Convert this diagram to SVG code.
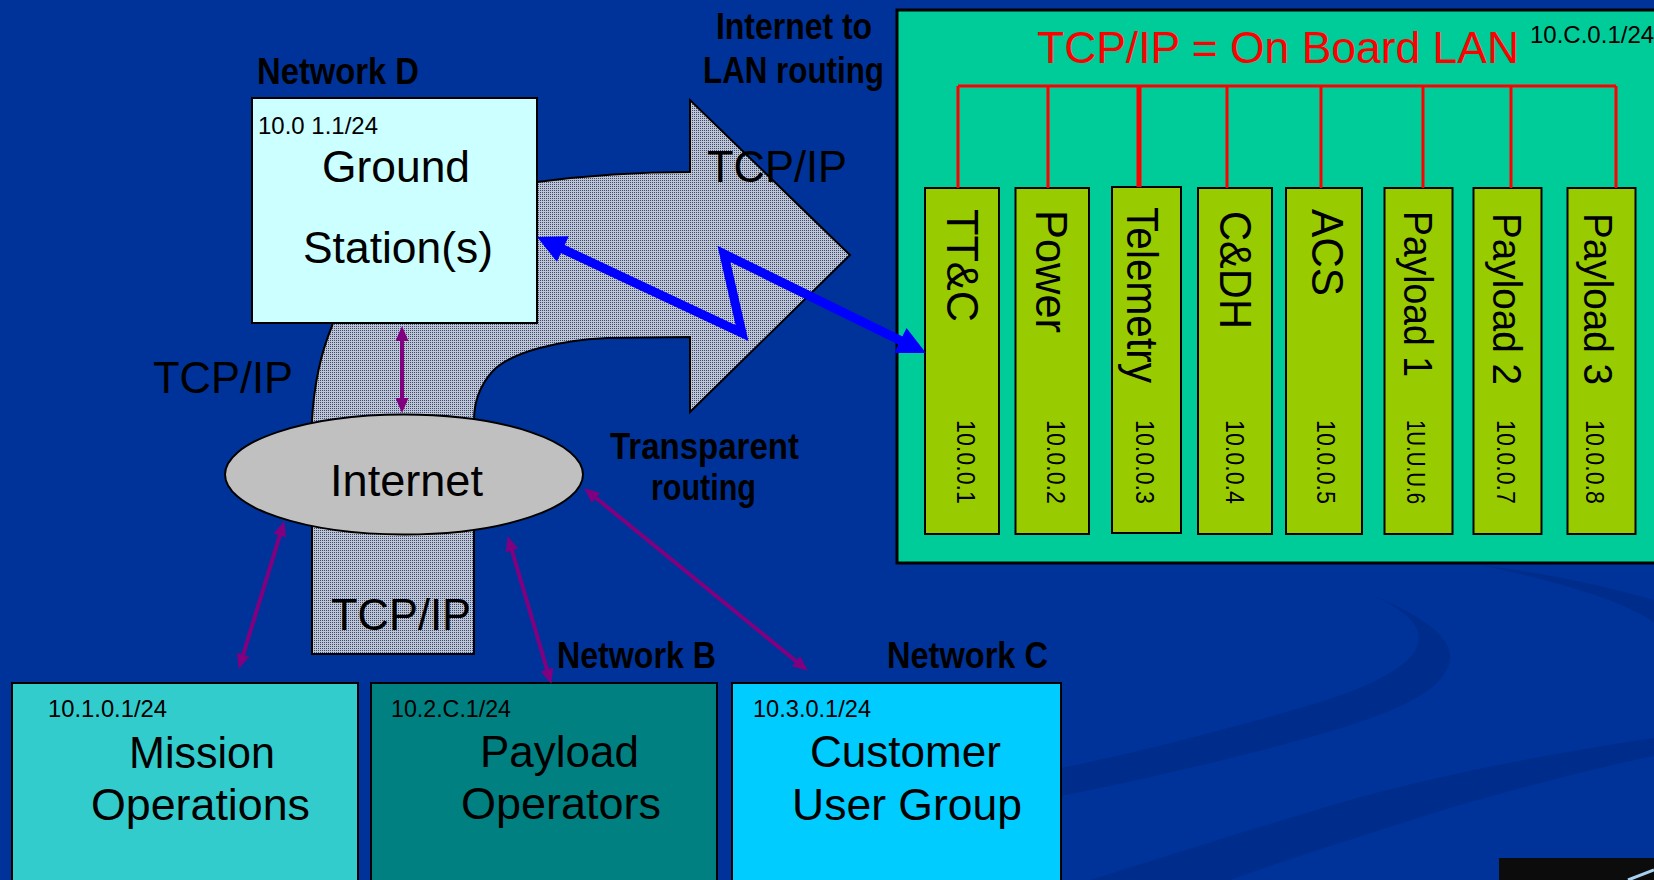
<svg xmlns="http://www.w3.org/2000/svg" width="1654" height="880" viewBox="0 0 1654 880">
<style>
.t{font-family:"Liberation Sans",Arial,sans-serif;fill:#000}
.big{font-size:44px}
.ip{font-size:24px}
.mip{font-size:26px}
.lbl{font-size:36px;font-weight:bold}
.box{stroke:#000;stroke-width:2}
.mod{fill:#99cc00;stroke:#000;stroke-width:2}
.bus{stroke:#ff0000;stroke-width:3;fill:none}
.pur{stroke:#800080;stroke-width:4;fill:none;marker-start:url(#ph);marker-end:url(#ph)}
.band{fill:#002d8c}
</style>
<defs>
<pattern id="stipple" width="2" height="2" patternUnits="userSpaceOnUse">
<rect width="2" height="2" fill="#c4c4c4"/>
<rect width="1" height="1" fill="#2a4aa0"/>
</pattern>
<marker id="ph" markerUnits="userSpaceOnUse" orient="auto-start-reverse" viewBox="-20 -20 40 40" refX="0" refY="0" markerWidth="40" markerHeight="40">
<path d="M5,0 L-10,-6.5 L-10,6.5 Z" fill="#800080"/>
</marker>
<marker id="bh" markerUnits="userSpaceOnUse" orient="auto-start-reverse" viewBox="-30 -30 60 60" refX="0" refY="0" markerWidth="60" markerHeight="60">
<path d="M10,0 L-18.5,-14 L-18.5,14 Z" fill="#0000ff"/>
</marker>
</defs>

<g id="background">
<rect width="1654" height="880" fill="#003399"/>
<path class="band" d="M1291,565 C1380,595 1455,625 1450,660 C1445,695 1380,718 1300,740 C1220,762 1120,785 1040,800 L1040,772 C1130,755 1230,728 1300,708 C1380,685 1425,660 1418,632 C1410,605 1350,585 1291,565 Z"/>
<path class="band" d="M1654,738 C1560,752 1450,772 1350,800 C1260,826 1160,858 1090,880 L1230,880 C1300,855 1380,830 1450,808 C1530,785 1600,767 1654,756 Z"/>
<path class="band" d="M1480,565 C1560,575 1620,590 1654,600 L1654,622 C1620,600 1560,582 1480,565 Z"/>
<rect x="1499" y="858" width="155" height="22" fill="#0c0c0c"/>
<line x1="1628" y1="880" x2="1654" y2="870" stroke="#a8d0f0" stroke-width="3"/>
</g>

<g id="routing-arrow">
<path d="M312,654 L312,420 C314,385 320,355 332,326 L340,300 C380,220 460,190 537,182 C590,175 640,172 690,172 L690,100 L850,255 L690,412 L690,337 L607,338 C560,340 510,352 492,372 C478,388 474,405 474,420 L474,654 Z" fill="url(#stipple)" stroke="#000" stroke-width="2"/>
<text class="t big" x="707" y="182" textLength="140" lengthAdjust="spacingAndGlyphs">TCP/IP</text>
<text class="t big" x="331" y="630" textLength="140" lengthAdjust="spacingAndGlyphs">TCP/IP</text>
</g>

<g id="internet">
<ellipse cx="404" cy="474.5" rx="179" ry="60" fill="#c0c0c0" stroke="#000" stroke-width="2"/>
<text class="t big" x="330" y="496" textLength="153" lengthAdjust="spacingAndGlyphs">Internet</text>
</g>

<g id="ground-station">
<rect class="box" x="252" y="98" width="285" height="225" fill="#ccffff"/>
<text class="t ip" x="258" y="134" textLength="120" lengthAdjust="spacingAndGlyphs">10.0 1.1/24</text>
<text class="t big" x="322" y="182" textLength="148" lengthAdjust="spacingAndGlyphs">Ground</text>
<text class="t big" x="303" y="263" textLength="190" lengthAdjust="spacingAndGlyphs">Station(s)</text>
</g>

<g id="label-network-d"><text class="t lbl" x="257" y="84" textLength="162" lengthAdjust="spacingAndGlyphs">Network D</text></g>
<g id="label-tcpip-left"><text class="t big" x="153" y="393" textLength="140" lengthAdjust="spacingAndGlyphs">TCP/IP</text></g>
<g id="label-internet-lan">
<text class="t lbl" x="716" y="39" textLength="156" lengthAdjust="spacingAndGlyphs">Internet to</text>
<text class="t lbl" x="703" y="83" textLength="181" lengthAdjust="spacingAndGlyphs">LAN routing</text>
</g>
<g id="label-transparent">
<text class="t lbl" x="610" y="459" textLength="189" lengthAdjust="spacingAndGlyphs">Transparent</text>
<text class="t lbl" x="651" y="500" textLength="105" lengthAdjust="spacingAndGlyphs">routing</text>
</g>
<g id="label-network-b"><text class="t lbl" x="557" y="668" textLength="159" lengthAdjust="spacingAndGlyphs">Network B</text></g>
<g id="label-network-c"><text class="t lbl" x="887" y="668" textLength="161" lengthAdjust="spacingAndGlyphs">Network C</text></g>

<g id="mission-operations">
<rect class="box" x="12" y="683" width="346" height="200" fill="#33cccc"/>
<text class="t ip" x="48" y="717" textLength="119" lengthAdjust="spacingAndGlyphs">10.1.0.1/24</text>
<text class="t big" x="129" y="768" textLength="146" lengthAdjust="spacingAndGlyphs">Mission</text>
<text class="t big" x="91" y="820" textLength="219" lengthAdjust="spacingAndGlyphs">Operations</text>
</g>

<g id="payload-operators">
<rect class="box" x="371" y="683" width="346" height="200" fill="#008080"/>
<text class="t ip" x="391" y="717" textLength="120" lengthAdjust="spacingAndGlyphs">10.2.C.1/24</text>
<text class="t big" x="480" y="767" textLength="159" lengthAdjust="spacingAndGlyphs">Payload</text>
<text class="t big" x="461" y="819" textLength="200" lengthAdjust="spacingAndGlyphs">Operators</text>
</g>

<g id="customer-user-group">
<rect class="box" x="732" y="683" width="329" height="200" fill="#00ccff"/>
<text class="t ip" x="753" y="717" textLength="118" lengthAdjust="spacingAndGlyphs">10.3.0.1/24</text>
<text class="t big" x="810" y="767" textLength="191" lengthAdjust="spacingAndGlyphs">Customer</text>
<text class="t big" x="792" y="820" textLength="230" lengthAdjust="spacingAndGlyphs">User Group</text>
</g>

<g id="onboard-lan">
<rect x="897" y="10" width="770" height="553" fill="#00cc99" stroke="#000" stroke-width="3"/>
<text x="1037" y="63" font-family="Liberation Sans, Arial, sans-serif" font-size="45" fill="#ff0000" textLength="482" lengthAdjust="spacingAndGlyphs">TCP/IP = On Board LAN</text>
<text class="t ip" x="1530" y="43">10.C.0.1/24</text>
</g>

<g id="module-ttc">
<rect class="mod" x="925" y="188" width="74" height="346"/>
<text class="t big" transform="translate(947,209) rotate(90)" textLength="113" lengthAdjust="spacingAndGlyphs">TT&amp;C</text>
<text class="t mip" transform="translate(957,420) rotate(90)" textLength="84" lengthAdjust="spacingAndGlyphs">10.0.0.1</text>
</g>
<g id="module-power">
<rect class="mod" x="1015.5" y="188" width="73.5" height="346"/>
<text class="t big" transform="translate(1036,210) rotate(90)" textLength="123" lengthAdjust="spacingAndGlyphs">Power</text>
<text class="t mip" transform="translate(1047,420) rotate(90)" textLength="84" lengthAdjust="spacingAndGlyphs">10.0.0.2</text>
</g>
<g id="module-telemetry">
<rect class="mod" x="1112" y="187" width="69" height="346"/>
<text class="t big" transform="translate(1127,207) rotate(90)" textLength="176" lengthAdjust="spacingAndGlyphs">Telemetry</text>
<text class="t mip" transform="translate(1136,420) rotate(90)" textLength="84" lengthAdjust="spacingAndGlyphs">10.0.0.3</text>
</g>
<g id="module-cdh">
<rect class="mod" x="1198" y="188" width="74" height="346"/>
<text class="t big" transform="translate(1220,211) rotate(90)" textLength="118" lengthAdjust="spacingAndGlyphs">C&amp;DH</text>
<text class="t mip" transform="translate(1226,420) rotate(90)" textLength="84" lengthAdjust="spacingAndGlyphs">10.0.0.4</text>
</g>
<g id="module-acs">
<rect class="mod" x="1286" y="188" width="76" height="346"/>
<text class="t big" transform="translate(1312,209) rotate(90)" textLength="87" lengthAdjust="spacingAndGlyphs">ACS</text>
<text class="t mip" transform="translate(1317,420) rotate(90)" textLength="84" lengthAdjust="spacingAndGlyphs">10.0.0.5</text>
</g>
<g id="module-payload1">
<rect class="mod" x="1384.5" y="188" width="68" height="346"/>
<text class="t" font-size="41" transform="translate(1404,211) rotate(90)" textLength="166" lengthAdjust="spacingAndGlyphs">Payload 1</text>
<text class="t mip" transform="translate(1406.5,420) rotate(90)" textLength="84" lengthAdjust="spacingAndGlyphs">1U.U.U.6</text>
</g>
<g id="module-payload2">
<rect class="mod" x="1473.5" y="188" width="68" height="346"/>
<text class="t" font-size="41" transform="translate(1492.5,213) rotate(90)" textLength="172" lengthAdjust="spacingAndGlyphs">Payload 2</text>
<text class="t mip" transform="translate(1497,420) rotate(90)" textLength="84" lengthAdjust="spacingAndGlyphs">10.0.0.7</text>
</g>
<g id="module-payload3">
<rect class="mod" x="1567.5" y="188" width="68" height="346"/>
<text class="t" font-size="41" transform="translate(1583.5,213) rotate(90)" textLength="172" lengthAdjust="spacingAndGlyphs">Payload 3</text>
<text class="t mip" transform="translate(1586,420) rotate(90)" textLength="84" lengthAdjust="spacingAndGlyphs">10.0.0.8</text>
</g>

<g id="connectors">
<path class="bus" d="M958,86 H1616 M958,86 V188 M1048,86 V188 M1227,86 V188 M1321,86 V188 M1423,86 V188 M1511,86 V188 M1616,86 V188"/>
<path d="M1139,86 V187" stroke="#ff0000" stroke-width="5" fill="none"/>
<polyline points="546.1,241.2 742,333 724,254 917,348.6" fill="none" stroke="#0000ff" stroke-width="9" stroke-linejoin="miter" marker-start="url(#bh)" marker-end="url(#bh)"/>
<line class="pur" x1="402" y1="331" x2="402" y2="408"/>
<line class="pur" x1="282.8" y1="525.8" x2="240.2" y2="664.2"/>
<line class="pur" x1="509.1" y1="540.8" x2="549.9" y2="679.2"/>
<line class="pur" x1="588.1" y1="491.5" x2="803.9" y2="667.5"/>
</g>
</svg>
